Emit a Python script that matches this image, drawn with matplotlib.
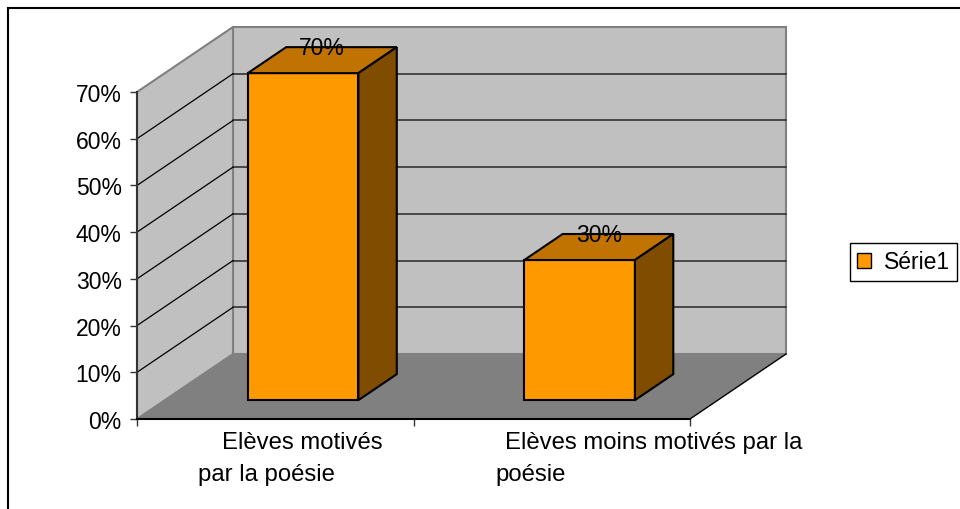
import matplotlib
matplotlib.use('Agg')
import matplotlib.pyplot as plt
from matplotlib.patches import Polygon, Patch, Rectangle
import matplotlib.transforms as mtransforms

plt.rcParams['font.family'] = ['Liberation Sans', 'DejaVu Sans']

# data
categories = [['Elèves motivés', 'par la poésie'],
              ['Elèves moins motivés par la', 'poésie']]
values = [70, 30]
series_name = 'Série1'
yticks = [0, 10, 20, 30, 40, 50, 60, 70]

# colours
front_c = '#FF9900'
top_c = '#C07300'
side_c = '#7F4C00'
wall_c = '#C0C0C0'
floor_c = '#808080'

FS = 16.5
W, H = 960, 510
fig = plt.figure(figsize=(9.6, 5.1), dpi=100)
ax = fig.add_axes([137 / W, (H - 420) / H, 553 / W, 327 / H])
ax.set_xlim(0, 2)
ax.set_ylim(0, 70)

# oblique depth offset (data units)
DX = 96 / 553 * 2
DY = 65 / 327 * 70
d0, d1 = 0.29, 0.69      # bar depth range (fraction of full depth)
bw = 0.4                  # bar width (category = 1)
ymax = 70


def P(x, y, d):
    return (x + DX * d, y + DY * d)


def poly(pts, fc, ec, lw, z):
    ax.add_patch(Polygon(pts, closed=True, facecolor=fc, edgecolor=ec,
                         linewidth=lw, zorder=z, clip_on=False,
                         joinstyle='miter'))


# walls and floor
poly([P(0, 0, 1), P(2, 0, 1), P(2, ymax, 1), P(0, ymax, 1)], wall_c, '#808080', 1.5, 1)
poly([P(0, 0, 0), P(0, ymax, 0), P(0, ymax, 1), P(0, 0, 1)], wall_c, '#808080', 1.5, 1)
poly([P(0, 0, 0), P(2, 0, 0), P(2, 0, 1), P(0, 0, 1)], floor_c, 'none', 0, 2)
ax.plot(*zip(P(2, 0, 0), P(2, 0, 1)), color='black', lw=1, zorder=2, clip_on=False)

# gridlines
for v in yticks[1:-1]:
    ax.plot(*zip(P(0, v, 1), P(2, v, 1)), color='#333333', lw=1.2, zorder=3, clip_on=False)
    ax.plot(*zip(P(0, v, 0), P(0, v, 1)), color='black', lw=0.9, zorder=3, clip_on=False)

# bars
for i, v in enumerate(values):
    x0 = i + 0.5 - bw / 2
    x1 = i + 0.5 + bw / 2
    poly([P(x0, 0, d0), P(x1, 0, d0), P(x1, v, d0), P(x0, v, d0)], front_c, 'black', 1.5, 5)
    poly([P(x0, v, d0), P(x1, v, d0), P(x1, v, d1), P(x0, v, d1)], top_c, 'black', 1.5, 5)
    poly([P(x1, 0, d0), P(x1, 0, d1), P(x1, v, d1), P(x1, v, d0)], side_c, 'black', 1.5, 5)
    ty = P(i + 0.5, v, d1)[1]
    tx = i + 0.5 + DX * (d0 + d1) / 2
    ax.text(tx, ty, '%d%%' % v, ha='center', va='center', fontsize=FS, zorder=6)

# axes
for s in ['top', 'right']:
    ax.spines[s].set_visible(False)
ax.spines['left'].set_color('#333333')
ax.spines['left'].set_linewidth(1.5)
ax.spines['bottom'].set_color('black')
ax.spines['bottom'].set_linewidth(1.5)
for s in ['left', 'bottom']:
    ax.spines[s].set_zorder(4)
ax.set_facecolor('none')
ax.set_yticks(yticks)
ax.set_yticklabels(['%d%%' % t for t in yticks], fontsize=FS)
ax.set_xticks([0, 1, 2])
ax.set_xticklabels([])
ax.tick_params(axis='y', length=5, width=1, pad=6, color='#333333')
ax.tick_params(axis='x', length=5, width=1, color='#333333')

# category labels
label_x = [[0.307, 0.221], [1.331, 1.298]]
label_dy = [-23, -55]
for cat, xs in zip(categories, label_x):
    for line, lx, dy in zip(cat, xs, label_dy):
        tr = mtransforms.offset_copy(ax.get_xaxis_transform(), fig=fig, x=0, y=dy, units='dots')
        ax.text(lx, 0, line, transform=tr, ha='left', va='center', fontsize=17.2)

# legend
fig.legend(handles=[Patch(facecolor=front_c, edgecolor='black', linewidth=1)],
           labels=[series_name], loc='upper left',
           bbox_to_anchor=(850 / W, 1 - 244 / H), frameon=True, fancybox=False,
           edgecolor='black', framealpha=1, fontsize=FS, borderaxespad=0,
           handlelength=0.6, handleheight=0.6, handletextpad=0.55, borderpad=0.32)

# outer border
fig.add_artist(Rectangle((8 / W, -0.1), 1.2, 1 - 9 / H + 0.1, transform=fig.transFigure,
                         fill=False, edgecolor='black', linewidth=1.5))

fig.savefig('out.png', dpi=100)
